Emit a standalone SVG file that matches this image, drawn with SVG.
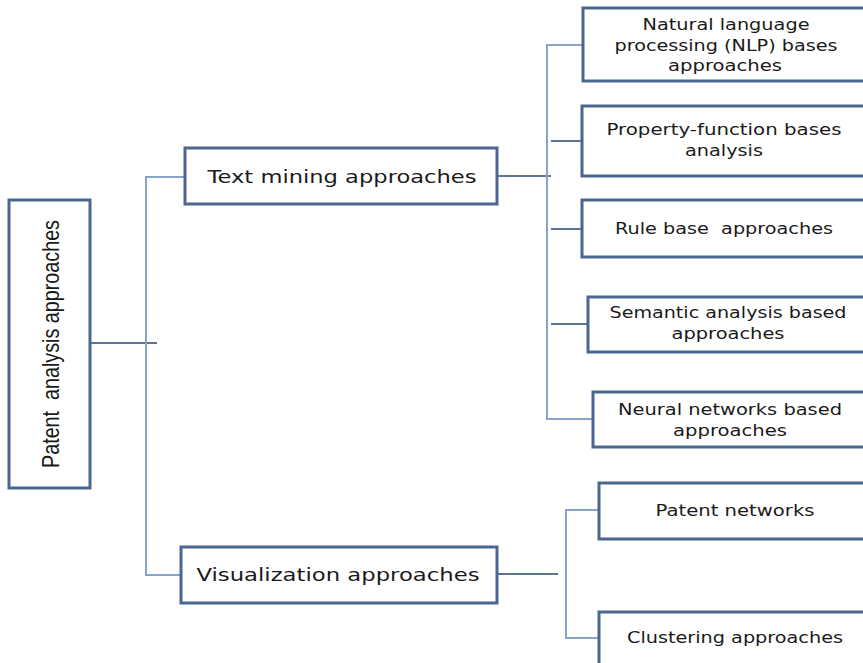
<svg xmlns="http://www.w3.org/2000/svg" width="863" height="663" viewBox="0 0 863 663">
<style>
.box{fill:#ffffff;stroke:#4b6790;stroke-width:3}
.t{font-family:"DejaVu Sans",Verdana,sans-serif;font-size:15px;fill:#1a1a1a;text-anchor:middle}
.tm{font-family:"DejaVu Sans",Verdana,sans-serif;font-size:17px;fill:#1a1a1a;text-anchor:middle}
.lt{stroke:#88a4cb;stroke-width:2;fill:none}
.dk{stroke:#5d7594;stroke-width:2;fill:none}
</style>
<rect width="863" height="663" fill="#ffffff"/>
<g id="connectors">
<line class="dk" x1="90" y1="343" x2="157" y2="343"/>
<polyline class="lt" points="185,177 146,177 146,575 181,575"/>
<line class="dk" x1="497" y1="176" x2="551" y2="176"/>
<polyline class="lt" points="582,45 547,45 547,419 593,419"/>
<line class="dk" x1="551" y1="141" x2="582" y2="141"/>
<line class="dk" x1="551" y1="229" x2="582" y2="229"/>
<line class="dk" x1="551" y1="324" x2="588" y2="324"/>
<line class="dk" x1="497" y1="574" x2="558" y2="574"/>
<polyline class="lt" points="599,510 566,510 566,638 599,638"/>
</g>
<g id="root">
<rect class="box" x="9" y="200" width="81" height="288"/>
<text transform="translate(59,344) rotate(-90)" font-family="'Liberation Sans',Arial,sans-serif" font-size="24" fill="#1a1a1a" text-anchor="middle" textLength="248" lengthAdjust="spacingAndGlyphs" xml:space="preserve">Patent  analysis approaches</text>
</g>
<g id="text-mining">
<rect class="box" x="185" y="148" width="312" height="56"/>
<text class="tm" x="342" y="183" textLength="269" lengthAdjust="spacingAndGlyphs">Text mining approaches</text>
</g>
<g id="visualization">
<rect class="box" x="181" y="547" width="316" height="56"/>
<text class="tm" x="338" y="581" textLength="283" lengthAdjust="spacingAndGlyphs">Visualization approaches</text>
</g>
<g id="nlp">
<rect class="box" x="583" y="8" width="300" height="73"/>
<text class="t" x="726" y="30" textLength="167" lengthAdjust="spacingAndGlyphs">Natural language</text>
<text class="t" x="726" y="51" textLength="223" lengthAdjust="spacingAndGlyphs">processing (NLP) bases</text>
<text class="t" x="725" y="71" textLength="114" lengthAdjust="spacingAndGlyphs">approaches</text>
</g>
<g id="property">
<rect class="box" x="582" y="106" width="300" height="70"/>
<text class="t" x="724" y="135" textLength="235" lengthAdjust="spacingAndGlyphs">Property-function bases</text>
<text class="t" x="724" y="156" textLength="78" lengthAdjust="spacingAndGlyphs">analysis</text>
</g>
<g id="rule">
<rect class="box" x="582" y="200" width="300" height="57"/>
<text class="t" x="724" y="234" textLength="218" lengthAdjust="spacingAndGlyphs" xml:space="preserve">Rule base  approaches</text>
</g>
<g id="semantic">
<rect class="box" x="588" y="297" width="300" height="55"/>
<text class="t" x="728" y="318" textLength="237" lengthAdjust="spacingAndGlyphs">Semantic analysis based</text>
<text class="t" x="728" y="339" textLength="113" lengthAdjust="spacingAndGlyphs">approaches</text>
</g>
<g id="neural">
<rect class="box" x="593" y="392" width="300" height="55"/>
<text class="t" x="730" y="415" textLength="224" lengthAdjust="spacingAndGlyphs">Neural networks based</text>
<text class="t" x="730" y="436" textLength="114" lengthAdjust="spacingAndGlyphs">approaches</text>
</g>
<g id="patent-networks">
<rect class="box" x="599" y="483" width="300" height="56"/>
<text class="t" x="735" y="516" textLength="159" lengthAdjust="spacingAndGlyphs">Patent networks</text>
</g>
<g id="clustering">
<rect class="box" x="599" y="612" width="300" height="70"/>
<text class="t" x="735" y="643" textLength="216" lengthAdjust="spacingAndGlyphs">Clustering approaches</text>
</g>
</svg>
